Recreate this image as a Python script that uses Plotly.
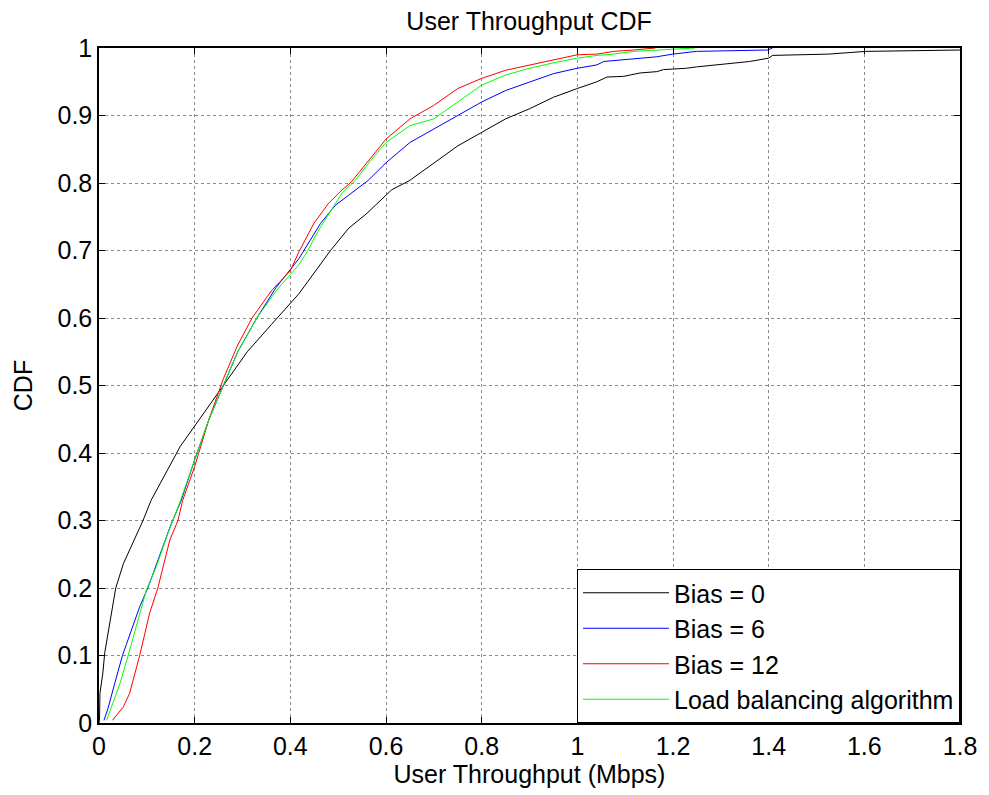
import plotly.graph_objects as go

# ---------------- data ----------------
bias0_x = [0, 0.001, 0.002, 0.008, 0.012, 0.023, 0.035, 0.051, 0.071, 0.092, 0.109, 0.14, 0.17, 0.2,
           0.24, 0.27, 0.31, 0.36, 0.418, 0.484, 0.522, 0.56, 0.588, 0.612, 0.65, 0.7, 0.75, 0.8, 0.85,
           0.9, 0.95, 1.0, 1.041, 1.062, 1.097, 1.131, 1.166, 1.18, 1.228, 1.249, 1.305, 1.36, 1.40,
           1.408, 1.526, 1.603, 1.80]
bias0_y = [0, 0.004, 0.044, 0.074, 0.104, 0.153, 0.20, 0.236, 0.266, 0.30, 0.33, 0.37, 0.41, 0.44,
           0.48, 0.51, 0.55, 0.59, 0.636, 0.70, 0.733, 0.755, 0.774, 0.79, 0.804, 0.83, 0.855, 0.875,
           0.895, 0.91, 0.927, 0.94, 0.95, 0.957, 0.958, 0.963, 0.965, 0.968, 0.970, 0.972, 0.976,
           0.98, 0.985, 0.989, 0.991, 0.995, 0.997]

bias6_x = [0.0104, 0.019, 0.033, 0.049, 0.057, 0.071, 0.085, 0.102, 0.113, 0.123, 0.135, 0.151, 0.172,
           0.2, 0.23, 0.26, 0.29, 0.33, 0.37, 0.418, 0.463, 0.494, 0.522, 0.563, 0.6, 0.65, 0.7, 0.75,
           0.8, 0.85, 0.9, 0.95, 1.0, 1.041, 1.055, 1.083, 1.131, 1.166, 1.20, 1.249, 1.398, 1.408]
bias6_y = [0.004, 0.022, 0.059, 0.10, 0.116, 0.143, 0.172, 0.20, 0.222, 0.241, 0.265, 0.295, 0.33,
           0.39, 0.45, 0.50, 0.55, 0.60, 0.645, 0.688, 0.74, 0.767, 0.782, 0.804, 0.83, 0.86, 0.88,
           0.90, 0.92, 0.937, 0.95, 0.962, 0.97, 0.975, 0.980, 0.982, 0.985, 0.987, 0.991, 0.995,
           0.997, 1.0]

bias12_x = [0.028, 0.051, 0.064, 0.085, 0.106, 0.123, 0.148, 0.165, 0.175, 0.2, 0.23, 0.26, 0.29,
            0.32, 0.36, 0.40, 0.418, 0.449, 0.480, 0.504, 0.528, 0.56, 0.6, 0.65, 0.7, 0.75, 0.8,
            0.85, 0.9, 0.95, 1.0, 1.041, 1.076, 1.118, 1.163]
bias12_y = [0.004, 0.024, 0.044, 0.10, 0.163, 0.20, 0.271, 0.30, 0.33, 0.38, 0.45, 0.51, 0.56,
            0.60, 0.64, 0.67, 0.698, 0.74, 0.77, 0.787, 0.802, 0.83, 0.865, 0.895, 0.915, 0.94,
            0.955, 0.967, 0.975, 0.983, 0.99, 0.991, 0.995, 0.997, 1.0]

lb_x = [0.016, 0.026, 0.044, 0.061, 0.078, 0.099, 0.12, 0.144, 0.168, 0.2, 0.23, 0.26, 0.29, 0.33,
        0.37, 0.418, 0.435, 0.459, 0.494, 0.508, 0.536, 0.57, 0.6, 0.65, 0.7, 0.75, 0.8, 0.85, 0.9,
        0.95, 1.0, 1.041, 1.076, 1.118, 1.163, 1.246]
lb_y = [0.004, 0.024, 0.059, 0.10, 0.143, 0.197, 0.232, 0.281, 0.325, 0.39, 0.45, 0.50, 0.55, 0.60,
        0.64, 0.679, 0.698, 0.73, 0.77, 0.785, 0.804, 0.835, 0.86, 0.885, 0.895, 0.92, 0.945, 0.96,
        0.97, 0.978, 0.985, 0.989, 0.991, 0.995, 0.997, 1.0]

series_names = ["Bias = 0", "Bias = 6", "Bias = 12", "Load balancing algorithm"]
series_colors = ["#000000", "#0000FF", "#FF0000", "#00FF00"]

x_ticks = [0, 0.2, 0.4, 0.6, 0.8, 1.0, 1.2, 1.4, 1.6, 1.8]
x_ticklabels = ["0", "0.2", "0.4", "0.6", "0.8", "1", "1.2", "1.4", "1.6", "1.8"]
y_ticks = [0, 0.1, 0.2, 0.3, 0.4, 0.5, 0.6, 0.7, 0.8, 0.9, 1.0]
y_ticklabels = ["0", "0.1", "0.2", "0.3", "0.4", "0.5", "0.6", "0.7", "0.8", "0.9", "1"]

FONT = "Liberation Sans, Arial, sans-serif"
FS = 25

fig = go.Figure()
for xs, ys, name, col in zip([bias0_x, bias6_x, bias12_x, lb_x],
                             [bias0_y, bias6_y, bias12_y, lb_y],
                             series_names, series_colors):
    fig.add_trace(go.Scatter(x=xs, y=ys, mode="lines", name=name,
                             line=dict(color=col, width=1)))

axis_common = dict(
    showline=True, linecolor="black", linewidth=1.5, mirror="allticks",
    ticks="inside", ticklen=6, tickwidth=1, tickcolor="black",
    showgrid=True, gridcolor="#8a8a8a", gridwidth=1, griddash="dot",
    zeroline=False, tickfont=dict(family=FONT, size=FS, color="black"),
)

fig.update_layout(
    width=989, height=795,
    margin=dict(l=99, r=24, t=48, b=72),
    paper_bgcolor="white", plot_bgcolor="white",
    font=dict(family=FONT, size=FS, color="black"),
    title=dict(text="User Throughput CDF", x=0.535, xanchor="center",
               y=1 - 21 / 795, yanchor="middle", yref="container",
               font=dict(family=FONT, size=FS, color="black")),
    xaxis=dict(range=[0, 1.8], tickvals=x_ticks, ticktext=x_ticklabels,
               title=dict(text="User Throughput (Mbps)", standoff=3,
                          font=dict(family=FONT, size=FS)),
               **axis_common),
    yaxis=dict(range=[0, 1], tickvals=y_ticks, ticktext=y_ticklabels,
               title=dict(text="CDF", standoff=18, font=dict(family=FONT, size=FS)),
               **axis_common),
    legend=dict(x=1, xanchor="right", y=0, yanchor="bottom",
                bgcolor="white", bordercolor="black", borderwidth=1,
                font=dict(family=FONT, size=FS, color="black"),
                itemwidth=86, tracegroupgap=0),
    showlegend=True,
)

fig.write_html("out.html")
